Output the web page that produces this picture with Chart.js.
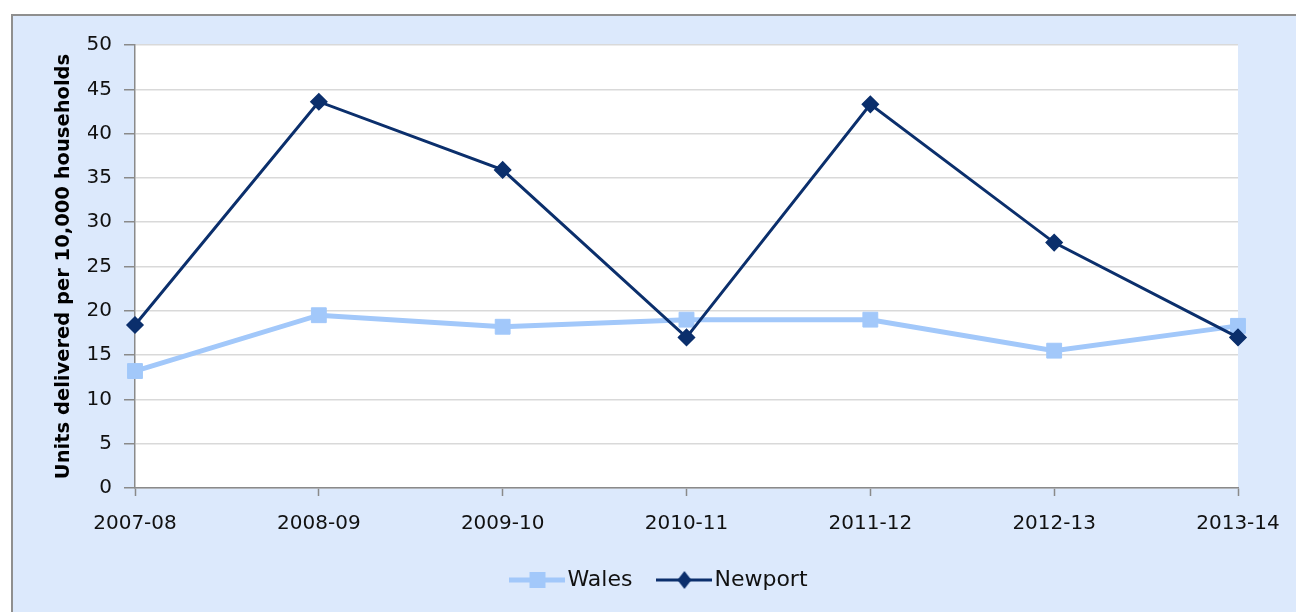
<!DOCTYPE html>
<html>
<head>
<meta charset="utf-8">
<script src="https://cdn.jsdelivr.net/npm/chart.js@4.4.1/dist/chart.umd.min.js"></script>
<style>
  html, body { margin: 0; padding: 0; background: #ffffff; }
  #c { display: block; }
</style>
</head>
<body>
<canvas id="c" width="1296" height="612"></canvas>
<script>
// Affordable housing units delivered per 10,000 households
const categories = ['2007-08', '2008-09', '2009-10', '2010-11', '2011-12', '2012-13', '2013-14'];
const walesValues = [13.2, 19.5, 18.2, 19.0, 19.0, 15.5, 18.3];
const newportValues = [18.4, 43.6, 35.9, 17.0, 43.3, 27.7, 17.0];
const yMin = 0;
const yMax = 50;
const yStep = 5;
const yTitle = 'Units delivered per 10,000 households';

const WALES = '#a2c8fa';
const NEWPORT = '#0b2f6c';
const PANEL = '#dce9fc';
const AXIS = '#8a8a8a';
const GRID = '#d9d9d9';
const FONT = 'DejaVu Sans';

// Legend swatches: a short line with the series marker in the middle
function swatch(color, lineWidth, marker) {
  const w = 56, h = 22;
  const cv = document.createElement('canvas');
  cv.width = w; cv.height = h;
  const g = cv.getContext('2d');
  g.strokeStyle = color;
  g.lineWidth = lineWidth;
  g.beginPath();
  g.moveTo(0, h / 2);
  g.lineTo(w, h / 2);
  g.stroke();
  g.fillStyle = color;
  if (marker === 'square') {
    g.fillRect(w / 2 - 8, h / 2 - 8, 16, 16);
  } else {
    g.beginPath();
    g.moveTo(w / 2, h / 2 - 9);
    g.lineTo(w / 2 + 7, h / 2);
    g.lineTo(w / 2, h / 2 + 9);
    g.lineTo(w / 2 - 7, h / 2);
    g.closePath();
    g.fill();
  }
  return cv;
}

const walesSwatch = swatch(WALES, 5, 'square');
const newportSwatch = swatch(NEWPORT, 3, 'diamond');

// Outer light-blue panel with grey frame, white plot area
const backgroundPlugin = {
  id: 'panel',
  beforeDraw(chart) {
    const ctx = chart.ctx;
    const { left, top, right, bottom } = chart.chartArea;
    ctx.save();
    ctx.fillStyle = '#ffffff';
    ctx.fillRect(0, 0, chart.width, chart.height);
    ctx.fillStyle = PANEL;
    ctx.fillRect(12, 15, chart.width - 12, chart.height - 15);
    ctx.strokeStyle = '#8f8f8f';
    ctx.lineWidth = 2;
    ctx.strokeRect(12, 15, chart.width + 10, chart.height + 10);
    ctx.fillStyle = '#ffffff';
    ctx.fillRect(left, top, right - left, bottom - top);
    ctx.restore();
  }
};

new Chart(document.getElementById('c'), {
  type: 'line',
  data: {
    labels: categories,
    datasets: [
      {
        label: 'Newport',
        data: newportValues,
        borderColor: NEWPORT,
        backgroundColor: NEWPORT,
        borderWidth: 3,
        pointStyle: 'rectRot',
        pointRadius: 8,
        pointBorderWidth: 1.5,
        pointBackgroundColor: NEWPORT,
        pointBorderColor: NEWPORT,
        tension: 0,
        fill: false
      },
      {
        label: 'Wales',
        data: walesValues,
        borderColor: WALES,
        backgroundColor: WALES,
        borderWidth: 5,
        pointStyle: 'rect',
        pointRadius: 10.5,
        pointBorderWidth: 1,
        pointBackgroundColor: WALES,
        pointBorderColor: WALES,
        tension: 0,
        fill: false
      }
    ]
  },
  options: {
    responsive: false,
    animation: false,
    devicePixelRatio: 1,
    layout: { padding: { left: 88, top: 45, right: 58, bottom: 11 } },
    scales: {
      x: {
        offset: false,
        grid: {
          drawOnChartArea: false,
          drawTicks: true,
          tickLength: 8,
          tickColor: AXIS,
          tickWidth: 1.5
        },
        border: { color: AXIS, width: 1.5 },
        ticks: {
          autoSkip: false,
          maxRotation: 0,
          padding: 16,
          color: '#111111',
          font: { family: FONT, size: 20 }
        },
        afterFit(scale) { scale.height = 48; }
      },
      y: {
        min: yMin,
        max: yMax,
        grid: {
          color: GRID,
          lineWidth: 1.5,
          tickLength: 11,
          tickColor: AXIS,
          tickWidth: 1.5
        },
        border: { color: AXIS, width: 1.5 },
        ticks: {
          stepSize: yStep,
          padding: 12,
          color: '#111111',
          font: { family: FONT, size: 20 }
        },
        title: {
          display: true,
          text: yTitle,
          color: '#000000',
          font: { family: FONT, size: 19.5, weight: 'bold' },
          padding: { top: -36, bottom: 0 }
        },
        afterFit(scale) { scale.width = 47; }
      }
    },
    plugins: {
      legend: {
        position: 'bottom',
        reverse: true,
        labels: {
          usePointStyle: true,
          pointStyleWidth: 38,
          padding: 33,
          color: '#111111',
          font: { family: FONT, size: 22 },
          generateLabels(chart) {
            return chart.data.datasets.map((ds, i) => ({
              text: ds.label,
              fillStyle: ds.borderColor,
              strokeStyle: ds.borderColor,
              lineWidth: 0,
              pointStyle: ds.label === 'Wales' ? walesSwatch : newportSwatch,
              hidden: false,
              datasetIndex: i,
              fontColor: '#111111'
            }));
          }
        }
      },
      tooltip: { enabled: false }
    }
  },
  plugins: [backgroundPlugin]
});
</script>
</body>
</html>
